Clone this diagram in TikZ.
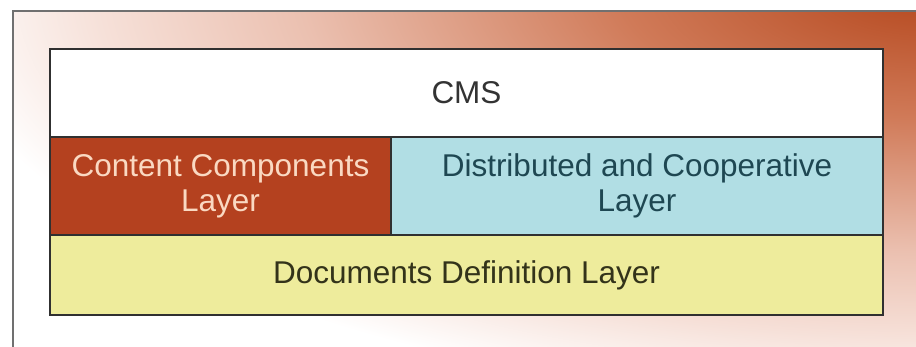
\documentclass[tikz,border=0pt]{standalone}
\usepackage{fontspec}
\setmainfont{Liberation Sans}
\definecolor{bgA}{HTML}{B4461C}
\definecolor{bgB}{HTML}{D07A58}
\definecolor{bgC}{HTML}{EBC0B0}
\definecolor{bgD}{HTML}{F6E0D8}
\definecolor{framegray}{HTML}{707070}
\definecolor{boxline}{HTML}{303030}
\definecolor{redfill}{HTML}{B4411F}
\definecolor{redtext}{HTML}{FAD9C2}
\definecolor{bluefill}{HTML}{B1DEE4}
\definecolor{bluetext}{HTML}{1E4752}
\definecolor{yellowfill}{HTML}{EEEC9C}
\definecolor{yellowtext}{HTML}{33331A}
\definecolor{cmstext}{HTML}{333333}
\pgfdeclareradialshading{bgshade}{\pgfpoint{0bp}{0bp}}{color(0bp)=(bgA); color(7.75bp)=(bgB); color(15.75bp)=(bgC); color(20.75bp)=(bgD); color(25bp)=(white); color(50bp)=(white)}
\begin{document}
\begin{tikzpicture}[x=1pt,y=1pt,
  cell/.style={draw=boxline, line width=2pt, rectangle, inner sep=0pt, outer sep=0pt,
    align=center, font=\fontsize{31.5}{35}\selectfont},
  frameline/.style={draw=framegray, line width=2.5pt}]
\useasboundingbox (0,0) rectangle (916,347);
\fill[white] (0,0) rectangle (916,347);
\begin{scope}
  \clip (13,0) rectangle (916,336);
  \shade[shading=bgshade] (-70,-60) rectangle (1930,780);
\end{scope}
\coordinate (fbl) at (13,-5);
\coordinate (ftl) at (13,336);
\coordinate (ftr) at (921,336);
\draw[frameline] (fbl) -- (ftl) -- (ftr);
\node[cell, fill=white, text=cmstext, minimum width=833pt, minimum height=88pt] (cms) at (466.5,254) {CMS};
\node[cell, fill=redfill, text=redtext, minimum width=341pt, minimum height=98pt] (ccl) at (220.5,161) {Content Components\\Layer};
\node[cell, fill=bluefill, text=bluetext, minimum width=492pt, minimum height=98pt] (dcl) at (637,161) {Distributed and Cooperative\\Layer};
\node[cell, fill=yellowfill, text=yellowtext, minimum width=833pt, minimum height=80pt] (ddl) at (466.5,72) {Documents Definition Layer};
\end{tikzpicture}
\end{document}
